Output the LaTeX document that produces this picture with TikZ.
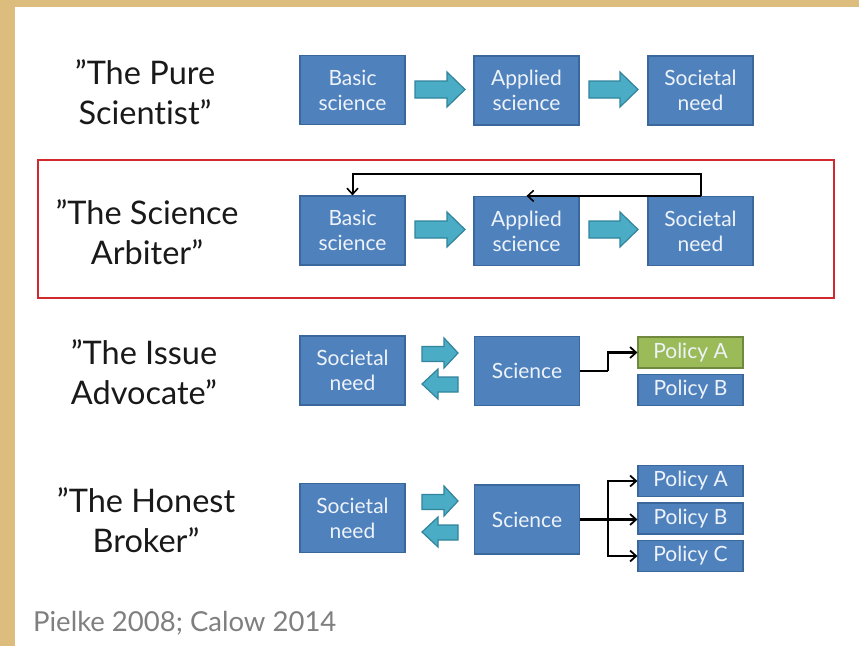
\documentclass[tikz,border=0pt]{standalone}
\usepackage{fontspec}
\setmainfont{Lato}[Ligatures=NoCommon]
\usetikzlibrary{arrows.meta}
\definecolor{tan}{HTML}{DCBD7E}
\definecolor{boxblue}{HTML}{4F81BD}
\definecolor{boxedge}{HTML}{3A679C}
\definecolor{aqua}{HTML}{4BACC6}
\definecolor{aquaedge}{HTML}{31849B}
\definecolor{polgreen}{HTML}{9BBB59}
\definecolor{greenedge}{HTML}{71893F}
\definecolor{framered}{HTML}{D02A2E}
\definecolor{boxtext}{HTML}{EEF3FA}
\definecolor{footgray}{HTML}{7F7F7F}
\tikzset{
  bigbox/.style={rectangle, fill=boxblue, draw=boxedge, line width=1.2pt,
    minimum width=105pt, minimum height=69pt, inner sep=0pt, align=center,
    text=boxtext, font=\fontsize{21}{25}\selectfont},
  polbox/.style={bigbox, minimum height=31pt},
  greenbox/.style={polbox, fill=polgreen, draw=greenedge},
  rolelabel/.style={align=center, inner sep=0pt, text=black!90,
    font=\fontsize{32.5}{40}\selectfont},
  barrow/.style={fill=aqua, draw=aquaedge, line width=1.2pt, line join=miter},
  conn/.style={draw=black, line width=2pt},
  thickconn/.style={draw=black, line width=2.5pt},
  connarrow/.style={conn, -{Straight Barb[length=6pt,width=11pt,line width=1.6pt]}},
  thickarrow/.style={thickconn, -{Straight Barb[length=6pt,width=11pt,line width=1.8pt]}},
}
\begin{document}
\begin{tikzpicture}[x=1pt,y=-1pt]
\useasboundingbox (0,0) rectangle (859,646);
\fill[tan] (0,0) rectangle (859,646);
\fill[white] (15,7) rectangle (859,646);
% red frame
\draw[framered, line width=2pt] (38,160) rectangle (834,298);

% ---------- row 1
\node[rolelabel] (lab1) at (145,92) {”The Pure\\Scientist”};
\node[bigbox] (basic1) at (352.5,90) {Basic\\science};
\node[bigbox] (app1) at (526.5,90.5) {Applied\\science};
\node[bigbox] (soc1) at (700.5,90.5) {Societal\\need};
\draw[barrow] (415,81) -- (447,81) -- (447,72) -- (465,89.5) -- (447,107) -- (447,98) -- (415,98) -- cycle;
\draw[barrow] (589,81) -- (620,81) -- (620,72) -- (638,89.5) -- (620,107) -- (620,98) -- (589,98) -- cycle;

% ---------- row 2
\node[rolelabel] (lab2) at (147,232) {”The Science\\Arbiter”};
\node[bigbox] (basic2) at (352.5,230.5) {Basic\\science};
\node[bigbox] (app2) at (526.5,231) {Applied\\science};
\node[bigbox] (soc2) at (700.5,231) {Societal\\need};
\draw[barrow] (415,221) -- (447,221) -- (447,212) -- (465,229.5) -- (447,247) -- (447,238) -- (415,238) -- cycle;
\draw[barrow] (589,221) -- (620,221) -- (620,212) -- (638,229.5) -- (620,247) -- (620,238) -- (589,238) -- cycle;
\draw[connarrow] (soc2.north) -- ++(0,-22) -| (basic2.north);
\draw[connarrow] (soc2.north) -- (app2.north);

% ---------- row 3
\node[rolelabel] (lab3) at (144,372) {”The Issue\\Advocate”};
\node[bigbox] (soc3) at (352.5,370.5) {Societal\\need};
\node[bigbox] (sci3) at (527,371) {Science};
\node[greenbox] (polA3) at (690.5,352.5) {Policy A};
\node[polbox] (polB3) at (690.5,390) {Policy B};
\draw[barrow] (422,346.5) -- (444,346.5) -- (444,338) -- (458,353) -- (444,368) -- (444,361.5) -- (422,361.5) -- cycle;
\draw[barrow] (458,377) -- (438,377) -- (438,369) -- (422,384) -- (438,399) -- (438,392) -- (458,392) -- cycle;
\coordinate (br3) at (608,371);
\draw[thickconn] (sci3.east) -- (br3);
\draw[thickarrow] (br3) |- (polA3.west);

% ---------- row 4
\node[rolelabel] (lab4) at (146,520) {”The Honest\\Broker”};
\node[bigbox] (soc4) at (352.5,518) {Societal\\need};
\node[bigbox] (sci4) at (527,519.5) {Science};
\node[polbox] (polA4) at (690.5,481) {Policy A};
\node[polbox] (polB4) at (690.5,518.5) {Policy B};
\node[polbox] (polC4) at (690.5,556) {Policy C};
\draw[barrow] (422,494.5) -- (444,494.5) -- (444,486) -- (458,501) -- (444,516) -- (444,509.5) -- (422,509.5) -- cycle;
\draw[barrow] (458,525) -- (438,525) -- (438,517) -- (422,532) -- (438,547) -- (438,540) -- (458,540) -- cycle;
\coordinate (br4) at (608,519.5);
\draw[thickconn] (sci4.east) -- (br4);
\draw[thickarrow] (br4) |- (polA4.west);
\draw[thickarrow] (br4) -- (br4 -| polB4.west);
\draw[thickarrow] (br4) |- (polC4.west);

% ---------- footer
\node[anchor=base west, inner sep=0pt, text=footgray, font=\fontsize{27.5}{32}\selectfont] (foot) at (33,631) {Pielke 2008; Calow 2014};
\end{tikzpicture}
\end{document}
